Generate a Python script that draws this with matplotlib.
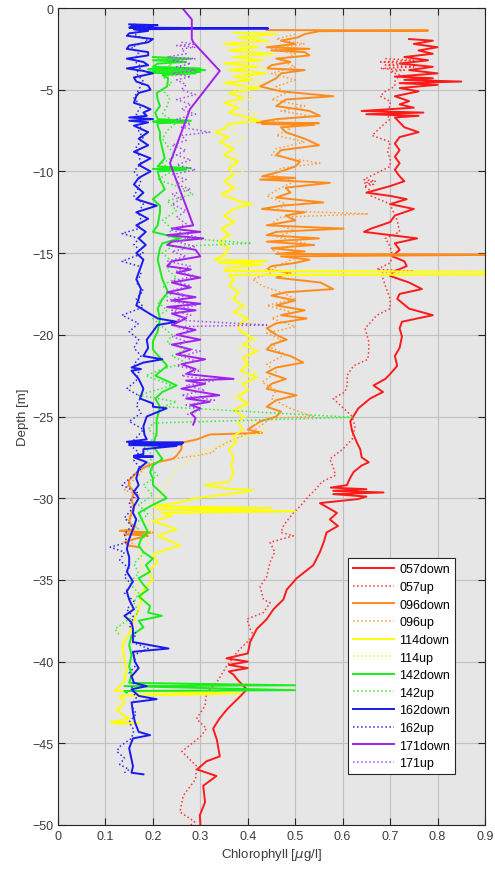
import numpy as np
import matplotlib
matplotlib.use("Agg")
import matplotlib.pyplot as plt

plt.rcParams['font.family'] = ['Liberation Sans', 'DejaVu Sans']

# profundidades (m, positivas hacia abajo) y clorofila (ug/l) por perfil
d057down = [1.9, 2.0, 2.2, 2.4, 2.6, 2.8, 3.0, 3.2, 3.4, 3.6, 3.8, 4.0, 4.2, 4.3, 4.4, 4.5, 4.6, 4.7, 4.9, 5.1,
            5.4, 5.7, 5.9, 6.1, 6.3, 6.4, 6.5, 6.6, 6.7, 7.0, 7.3, 7.6, 7.9, 8.3, 8.7, 9.1, 9.5, 9.9, 10.3, 10.6,
            10.9, 11.3, 11.5, 11.7, 12.0, 12.3, 12.7, 13.1, 13.5, 13.7, 14.1, 14.4, 14.8, 15.2, 15.5, 15.8, 16.1,
            16.4, 16.8, 17.2, 17.5, 17.8, 18.4, 18.8, 19.2, 19.6, 20.1, 20.8, 21.3, 21.9, 22.4, 22.7, 23.1, 23.5,
            23.9, 24.5, 25.3, 25.9, 26.6, 27.0, 27.5, 27.8, 28.0, 28.4, 28.8, 29.2, 29.35, 29.45, 29.55, 29.65,
            29.75, 29.9, 30.05, 30.3, 30.6, 30.9, 31.3, 31.7, 32.1, 32.7, 33.3, 34.1, 34.9, 35.6, 36.2, 36.8, 37.4,
            38.0, 38.8, 39.5, 39.8, 40.0, 40.2, 40.4, 40.6, 40.8, 41.1, 41.7, 42.1, 42.9, 43.5, 44.1, 44.8, 45.8,
            46.1, 46.6, 47.0, 47.6, 48.6, 49.4, 50.0]
v057down = [0.74, 0.79, 0.75, 0.80, 0.76, 0.79, 0.73, 0.78, 0.72, 0.79, 0.74, 0.80, 0.71, 0.79, 0.73, 0.85, 0.72,
            0.80, 0.72, 0.76, 0.71, 0.74, 0.72, 0.75, 0.64, 0.77, 0.65, 0.76, 0.71, 0.72, 0.73, 0.76, 0.72, 0.71,
            0.72, 0.71, 0.72, 0.71, 0.72, 0.73, 0.70, 0.65, 0.70, 0.735, 0.70, 0.75, 0.71, 0.70, 0.66, 0.645, 0.757,
            0.71, 0.72, 0.705, 0.73, 0.735, 0.71, 0.70, 0.74, 0.767, 0.72, 0.715, 0.74, 0.79, 0.725, 0.72, 0.725,
            0.72, 0.71, 0.715, 0.70, 0.69, 0.665, 0.685, 0.658, 0.633, 0.616, 0.62, 0.63, 0.637, 0.64, 0.655, 0.64,
            0.623, 0.615, 0.609, 0.575, 0.65, 0.58, 0.686, 0.58, 0.65, 0.633, 0.552, 0.57, 0.588, 0.573, 0.59, 0.566,
            0.56, 0.552, 0.538, 0.503, 0.482, 0.475, 0.454, 0.44, 0.419, 0.405, 0.40, 0.355, 0.40, 0.36, 0.40, 0.36,
            0.37, 0.378, 0.398, 0.385, 0.357, 0.34, 0.327, 0.335, 0.341, 0.313, 0.293, 0.334, 0.306, 0.31, 0.299,
            0.30]

d057up = [3.1, 3.2, 3.3, 3.4, 3.5, 3.6, 3.7, 3.8, 3.9, 4.1, 4.5, 4.8, 5.1, 5.4, 5.7, 6.0, 6.4, 6.8, 7.3, 7.8, 8.2,
          8.8, 9.3, 9.7, 10.3, 10.5, 10.6, 10.7, 10.8, 10.9, 11.2, 11.5, 12.0, 12.5, 13.0, 13.7, 14.1, 14.6, 15.2,
          15.6, 16.0, 16.1, 16.2, 16.4, 17.0, 17.8, 18.4, 18.8, 19.2, 19.6, 20.4, 21.0, 21.5, 21.9, 22.5, 23.0,
          23.5, 23.9, 24.5, 25.0, 25.6, 26.4, 27.0, 27.6, 28.1, 28.6, 29.0, 29.4, 29.8, 30.5, 30.9, 31.3, 31.7,
          32.1, 32.3, 32.7, 33.3, 33.9, 34.8, 35.4, 36.2, 36.4, 37.0, 37.4, 38.0, 38.4, 39.4, 40.3, 41.3, 41.9,
          42.7, 43.5, 44.1, 44.6, 45.5, 46.4, 47.2, 48.2, 49.2, 49.8, 50.0]
v057up = [0.69, 0.75, 0.68, 0.74, 0.69, 0.75, 0.68, 0.73, 0.70, 0.72, 0.71, 0.71, 0.69, 0.679, 0.70, 0.70, 0.69,
          0.70, 0.68, 0.662, 0.70, 0.695, 0.70, 0.70, 0.658, 0.645, 0.67, 0.645, 0.665, 0.645, 0.66, 0.66, 0.70,
          0.707, 0.715, 0.72, 0.69, 0.70, 0.705, 0.70, 0.672, 0.749, 0.68, 0.683, 0.69, 0.70, 0.70, 0.672, 0.66,
          0.647, 0.655, 0.655, 0.653, 0.623, 0.609, 0.61, 0.605, 0.58, 0.602, 0.62, 0.626, 0.62, 0.60, 0.573,
          0.58, 0.585, 0.556, 0.545, 0.531, 0.51, 0.496, 0.485, 0.475, 0.47, 0.496, 0.447, 0.457, 0.447, 0.44,
          0.426, 0.433, 0.447, 0.433, 0.398, 0.405, 0.412, 0.378, 0.355, 0.334, 0.313, 0.31, 0.292, 0.313, 0.30,
          0.261, 0.292, 0.29, 0.264, 0.257, 0.288, 0.28]

d096down = [1.35, 1.38, 1.42, 1.6, 1.8, 2.0, 2.2, 2.4, 2.5, 2.6, 2.7, 2.9, 3.1, 3.3, 3.5, 3.7, 3.8, 4.0, 4.3, 4.6,
            4.8, 5.1, 5.4, 5.6, 6.0, 6.3, 6.6, 6.8, 7.0, 7.05, 7.1, 7.15, 7.3, 7.6, 8.0, 8.4, 8.7, 9.0, 9.4, 9.7,
            10.0, 10.3, 10.4, 10.5, 10.7, 11.0, 11.3, 11.6, 11.9, 12.1, 12.3, 12.5, 12.7, 13.0, 13.3, 13.5, 13.7,
            13.9, 14.1, 14.3, 14.5, 14.7, 14.9, 15.05, 15.1, 15.2, 15.4, 15.6, 15.8, 16.0, 16.2, 16.5, 16.8, 17.2,
            17.4, 17.6, 17.9, 18.2, 18.5, 18.8, 19.0, 19.3, 19.6, 20.0, 20.3, 20.6, 20.9, 21.3, 21.7, 22.0, 22.3,
            22.7, 23.0, 23.3, 23.7, 24.0, 24.4, 24.7, 25.0, 25.3, 25.8, 26.0, 26.1, 26.4, 26.6, 27.0, 27.4, 27.6,
            27.8, 28.0, 28.3, 28.6, 28.9, 29.2, 29.6, 30.1, 30.5, 30.9, 31.4, 31.9, 32.0, 32.1, 32.2, 32.3, 32.5,
            32.7, 32.9, 33.0]
v096down = [0.44, 0.78, 0.55, 0.52, 0.505, 0.47, 0.50, 0.44, 0.53, 0.45, 0.52, 0.53, 0.46, 0.49, 0.45, 0.44, 0.52,
            0.47, 0.46, 0.44, 0.426, 0.47, 0.58, 0.48, 0.46, 0.53, 0.552, 0.46, 0.419, 0.55, 0.43, 0.54, 0.47, 0.48,
            0.52, 0.55, 0.47, 0.46, 0.51, 0.50, 0.47, 0.43, 0.50, 0.426, 0.573, 0.48, 0.49, 0.46, 0.559, 0.47, 0.43,
            0.52, 0.48, 0.50, 0.44, 0.602, 0.46, 0.44, 0.55, 0.44, 0.54, 0.45, 0.52, 0.46, 0.95, 0.47, 0.53, 0.50,
            0.45, 0.44, 0.49, 0.46, 0.553, 0.58, 0.48, 0.45, 0.50, 0.46, 0.52, 0.47, 0.524, 0.46, 0.44, 0.46, 0.482,
            0.45, 0.44, 0.49, 0.517, 0.46, 0.44, 0.48, 0.45, 0.44, 0.503, 0.46, 0.44, 0.47, 0.46, 0.426, 0.40, 0.43,
            0.32, 0.293, 0.261, 0.26, 0.25, 0.241, 0.21, 0.19, 0.17, 0.16, 0.15, 0.149, 0.16, 0.155, 0.16, 0.155,
            0.15, 0.16, 0.13, 0.20, 0.14, 0.19, 0.16, 0.14, 0.15, 0.17]

d096up = [1.6, 1.9, 2.2, 2.5, 2.8, 3.2, 3.6, 4.0, 4.4, 4.8, 5.2, 5.6, 6.0, 6.3, 6.6, 6.9, 7.4, 7.8, 8.2, 8.6, 9.0,
          9.5, 9.8, 10.2, 10.6, 11.0, 11.5, 12.0, 12.4, 12.6, 12.8, 13.2, 13.6, 14.0, 14.4, 14.8, 15.3, 15.8, 16.2,
          16.6, 17.0, 17.4, 17.8, 18.2, 18.6, 19.0, 19.5, 19.9, 20.3, 20.8, 21.2, 21.8, 22.3, 22.9, 23.4, 23.9,
          24.5, 25.0, 25.1, 25.5, 25.9, 26.3, 26.6, 27.0, 27.2, 27.4, 27.6, 27.8, 28.2, 28.6, 29.0, 29.5, 29.8,
          30.3, 30.8, 31.3, 31.8, 32.2, 32.6, 33.0]
v096up = [0.50, 0.46, 0.52, 0.45, 0.50, 0.47, 0.50, 0.45, 0.50, 0.46, 0.48, 0.45, 0.52, 0.47, 0.53, 0.45, 0.49,
          0.46, 0.52, 0.46, 0.45, 0.552, 0.47, 0.45, 0.50, 0.47, 0.44, 0.48, 0.46, 0.654, 0.47, 0.45, 0.50, 0.46,
          0.52, 0.45, 0.50, 0.46, 0.45, 0.41, 0.43, 0.47, 0.50, 0.44, 0.49, 0.45, 0.50, 0.44, 0.47, 0.45, 0.48,
          0.44, 0.46, 0.43, 0.46, 0.45, 0.489, 0.538, 0.45, 0.43, 0.41, 0.38, 0.356, 0.33, 0.327, 0.29, 0.243,
          0.208, 0.18, 0.17, 0.155, 0.14, 0.17, 0.15, 0.16, 0.145, 0.165, 0.14, 0.16, 0.15]

d114down = [1.5, 1.6, 1.8, 2.0, 2.2, 2.4, 2.6, 2.8, 3.0, 3.2, 3.4, 3.6, 3.8, 4.0, 4.2, 4.4, 4.6, 4.9, 5.2, 5.5,
            5.8, 6.1, 6.4, 6.7, 6.9, 7.1, 7.4, 7.6, 7.9, 8.2, 8.6, 9.0, 9.4, 9.8, 10.2, 10.6, 11.0, 11.4, 11.8,
            12.0, 12.3, 12.7, 13.1, 13.5, 13.9, 14.3, 14.7, 15.1, 15.4, 15.5, 15.6, 15.7, 15.9, 16.1, 16.15, 16.3,
            16.35, 16.6, 17.0, 17.4, 17.8, 18.2, 18.6, 19.0, 19.4, 19.8, 20.2, 20.6, 21.0, 21.4, 21.8, 22.2, 22.6,
            23.0, 23.4, 23.8, 24.2, 24.6, 25.0, 25.4, 25.8, 26.2, 26.6, 27.0, 27.5, 28.0, 28.5, 29.0, 29.2, 29.4,
            29.5, 29.6, 30.0, 30.3, 30.5, 30.6, 30.7, 30.8, 30.9, 31.1, 31.4, 31.9, 32.3, 32.9, 33.4, 33.9, 34.5,
            35.0, 35.6, 36.2, 36.8, 37.5, 38.3, 39.0, 39.8, 40.5, 41.2, 41.8, 41.95, 42.1, 42.5, 43.0, 43.5, 43.7,
            43.75, 43.8]
v114down = [0.37, 0.46, 0.38, 0.44, 0.35, 0.42, 0.36, 0.45, 0.37, 0.43, 0.35, 0.42, 0.36, 0.44, 0.37, 0.41, 0.35,
            0.426, 0.36, 0.39, 0.35, 0.38, 0.36, 0.40, 0.425, 0.36, 0.35, 0.331, 0.36, 0.34, 0.37, 0.35, 0.38, 0.36,
            0.37, 0.35, 0.37, 0.345, 0.38, 0.408, 0.37, 0.35, 0.37, 0.345, 0.36, 0.34, 0.36, 0.35, 0.33, 0.44, 0.34,
            0.43, 0.36, 0.35, 1.0, 1.0, 0.36, 0.37, 0.36, 0.38, 0.37, 0.39, 0.37, 0.40, 0.38, 0.385, 0.41, 0.39,
            0.42, 0.39, 0.40, 0.385, 0.42, 0.39, 0.40, 0.38, 0.40, 0.37, 0.39, 0.38, 0.39, 0.37, 0.375, 0.36, 0.37,
            0.365, 0.37, 0.36, 0.31, 0.35, 0.41, 0.40, 0.29, 0.25, 0.20, 0.45, 0.21, 0.50, 0.22, 0.24, 0.20, 0.25,
            0.21, 0.257, 0.20, 0.21, 0.19, 0.20, 0.18, 0.175, 0.17, 0.16, 0.15, 0.135, 0.14, 0.145, 0.14, 0.12,
            0.384, 0.13, 0.14, 0.125, 0.15, 0.11, 0.17, 0.12]

d114up = [1.8, 2.1, 2.5, 2.9, 3.3, 3.7, 4.1, 4.5, 5.0, 5.5, 6.0, 6.5, 7.0, 7.5, 8.0, 8.5, 9.0, 9.5, 10.0, 10.5,
          11.0, 11.5, 12.0, 12.5, 13.0, 13.5, 14.0, 14.5, 15.0, 15.5, 16.0, 16.2, 16.3, 16.8, 17.3, 17.8, 18.3,
          18.8, 19.3, 19.8, 20.3, 20.8, 21.3, 21.8, 22.3, 22.8, 23.3, 23.8, 24.3, 24.8, 25.3, 25.9, 26.2, 26.6,
          27.0, 27.4, 27.8, 28.2, 28.6, 29.0, 29.5, 30.0, 30.5, 30.8, 31.0, 31.5, 32.0, 32.5, 33.0, 33.5, 34.0,
          35.0, 36.0, 37.0, 38.0, 39.0, 40.0, 41.0, 42.0, 42.2, 43.0]
v114up = [0.40, 0.45, 0.38, 0.46, 0.39, 0.44, 0.38, 0.43, 0.37, 0.41, 0.36, 0.42, 0.38, 0.36, 0.39, 0.35, 0.38,
          0.36, 0.39, 0.36, 0.38, 0.35, 0.39, 0.36, 0.38, 0.35, 0.37, 0.34, 0.36, 0.34, 0.37, 1.0, 0.38, 0.37,
          0.39, 0.36, 0.40, 0.38, 0.41, 0.39, 0.42, 0.38, 0.41, 0.39, 0.42, 0.38, 0.40, 0.37, 0.40, 0.38, 0.41,
          0.44, 0.40, 0.36, 0.32, 0.29, 0.27, 0.25, 0.24, 0.23, 0.22, 0.21, 0.20, 0.35, 0.20, 0.19, 0.20, 0.18,
          0.19, 0.17, 0.18, 0.17, 0.16, 0.15, 0.13, 0.14, 0.13, 0.14, 0.20, 0.13, 0.12]

d142down = [3.0, 3.1, 3.2, 3.3, 3.4, 3.6, 3.7, 3.75, 3.8, 3.85, 3.9, 3.95, 4.0, 4.1, 4.3, 4.8, 5.2, 5.6, 6.0, 6.4,
            6.8, 6.9, 6.95, 7.0, 7.05, 7.2, 7.6, 8.0, 8.6, 9.2, 9.7, 9.8, 9.85, 9.9, 10.0, 10.5, 11.1, 11.7, 12.1,
            12.5, 13.3, 13.7, 14.1, 14.4, 14.7, 15.4, 16.0, 16.6, 17.4, 17.8, 18.4, 19.0, 19.8, 20.4, 20.9, 21.4,
            21.9, 22.5, 23.1, 23.5, 23.9, 24.4, 25.2, 26.0, 26.8, 27.2, 27.6, 28.0, 28.4, 28.8, 29.2, 29.6, 30.0,
            30.4, 30.9, 31.5, 32.1, 32.5, 32.9, 33.3, 33.7, 34.1, 34.5, 34.9, 35.3, 35.6, 36.0, 36.6, 37.0, 37.2,
            37.5, 37.9, 38.4, 39.0, 39.6, 40.3, 40.8, 41.3, 41.45, 41.5, 41.75, 41.8, 41.9]
v142down = [0.20, 0.28, 0.20, 0.27, 0.21, 0.20, 0.30, 0.19, 0.31, 0.20, 0.30, 0.19, 0.29, 0.22, 0.232, 0.23, 0.208,
            0.21, 0.215, 0.205, 0.21, 0.28, 0.20, 0.27, 0.21, 0.21, 0.215, 0.215, 0.22, 0.225, 0.21, 0.28, 0.20,
            0.27, 0.21, 0.215, 0.225, 0.20, 0.215, 0.215, 0.21, 0.20, 0.257, 0.22, 0.215, 0.21, 0.215, 0.22, 0.232,
            0.22, 0.21, 0.215, 0.21, 0.20, 0.20, 0.215, 0.23, 0.205, 0.25, 0.22, 0.205, 0.215, 0.208, 0.208, 0.20,
            0.21, 0.22, 0.20, 0.194, 0.20, 0.20, 0.215, 0.229, 0.20, 0.17, 0.18, 0.19, 0.175, 0.17, 0.18, 0.20,
            0.185, 0.194, 0.17, 0.18, 0.19, 0.17, 0.194, 0.19, 0.219, 0.17, 0.18, 0.155, 0.15, 0.155, 0.15, 0.155,
            0.15, 0.50, 0.14, 0.50, 0.14, 0.145]

d142up = [3.1, 3.15, 3.2, 3.5, 3.8, 3.85, 3.9, 4.0, 4.2, 4.6, 5.0, 5.5, 6.0, 6.5, 7.0, 7.5, 8.0, 8.6, 9.0, 9.5,
          10.0, 10.5, 11.0, 11.4, 11.8, 12.4, 13.0, 13.5, 14.0, 14.4, 14.6, 15.0, 15.5, 16.0, 16.5, 17.0, 17.5,
          18.0, 18.5, 19.0, 19.5, 20.0, 20.5, 20.9, 21.3, 21.7, 22.1, 22.5, 23.1, 23.7, 24.1, 24.4, 25.05, 25.4,
          25.8, 26.2, 26.8, 27.4, 28.0, 28.6, 29.2, 29.8, 30.4, 31.0, 31.6, 32.2, 32.8, 33.4, 34.0, 34.6, 35.2,
          35.8, 36.4, 37.0, 37.6, 38.0, 38.4]
v142up = [0.21, 0.27, 0.22, 0.24, 0.20, 0.29, 0.21, 0.28, 0.22, 0.24, 0.22, 0.235, 0.23, 0.22, 0.25, 0.23, 0.22,
          0.235, 0.25, 0.22, 0.24, 0.21, 0.26, 0.285, 0.23, 0.25, 0.22, 0.24, 0.23, 0.408, 0.24, 0.22, 0.24, 0.23,
          0.25, 0.22, 0.24, 0.21, 0.23, 0.20, 0.22, 0.24, 0.23, 0.27, 0.24, 0.27, 0.22, 0.185, 0.24, 0.17, 0.25,
          0.22, 0.62, 0.20, 0.19, 0.21, 0.18, 0.20, 0.19, 0.21, 0.18, 0.20, 0.17, 0.19, 0.16, 0.18, 0.17, 0.18,
          0.16, 0.17, 0.15, 0.17, 0.16, 0.17, 0.14, 0.12, 0.13]

d162down = [1.0, 1.05, 1.1, 1.15, 1.2, 1.25, 1.3, 1.4, 1.55, 1.7, 1.9, 2.1, 2.3, 2.5, 2.7, 2.9, 3.1, 3.3, 3.5, 3.7,
            3.85, 4.0, 4.25, 4.5, 4.75, 5.0, 5.2, 5.4, 5.8, 6.0, 6.2, 6.4, 6.6, 6.7, 6.8, 6.9, 7.0, 7.2, 7.6, 8.0,
            8.4, 8.8, 9.2, 9.6, 10.0, 10.4, 10.8, 11.3, 11.7, 12.1, 12.5, 12.9, 13.3, 13.7, 14.1, 14.5, 15.0, 15.4,
            15.8, 16.2, 16.6, 17.2, 17.8, 18.2, 18.6, 19.0, 19.2, 19.4, 19.8, 20.3, 20.8, 21.3, 21.5, 21.7, 22.0,
            22.1, 22.2, 22.7, 23.3, 23.9, 24.2, 24.4, 24.5, 25.0, 25.6, 26.1, 26.4, 26.55, 26.6, 26.65, 26.7, 26.75,
            26.8, 27.0, 27.3, 27.4, 27.45, 27.5, 27.8, 28.2, 28.8, 29.2, 29.6, 30.0, 30.5, 30.9, 31.3, 31.9, 32.5,
            33.1, 33.6, 34.1, 34.5, 35.1, 35.7, 36.2, 36.8, 37.2, 37.6, 38.0, 38.8, 39.2, 39.4, 40.0, 40.4, 40.9,
            41.3, 41.5, 41.7, 42.1, 42.3, 42.5, 43.1, 43.7, 44.3, 44.5, 44.7, 45.3, 46.0, 46.4, 46.8, 46.9]
v162down = [0.15, 0.21, 0.155, 0.20, 0.15, 0.443, 0.16, 0.19, 0.15, 0.145, 0.20, 0.19, 0.15, 0.145, 0.19, 0.19,
            0.145, 0.18, 0.19, 0.145, 0.18, 0.20, 0.16, 0.165, 0.19, 0.195, 0.17, 0.165, 0.16, 0.18, 0.195, 0.18,
            0.187, 0.15, 0.20, 0.15, 0.19, 0.16, 0.19, 0.17, 0.19, 0.16, 0.195, 0.17, 0.195, 0.17, 0.16, 0.18,
            0.165, 0.208, 0.165, 0.19, 0.165, 0.185, 0.17, 0.185, 0.165, 0.18, 0.175, 0.17, 0.165, 0.175, 0.17,
            0.165, 0.187, 0.21, 0.25, 0.21, 0.20, 0.187, 0.19, 0.18, 0.22, 0.18, 0.155, 0.175, 0.155, 0.17, 0.18,
            0.173, 0.20, 0.20, 0.229, 0.187, 0.18, 0.182, 0.187, 0.145, 0.264, 0.15, 0.26, 0.15, 0.25, 0.18, 0.18,
            0.16, 0.20, 0.16, 0.187, 0.17, 0.165, 0.17, 0.16, 0.17, 0.16, 0.158, 0.165, 0.158, 0.15, 0.145, 0.15,
            0.15, 0.145, 0.158, 0.145, 0.15, 0.16, 0.14, 0.155, 0.158, 0.158, 0.233, 0.158, 0.162, 0.17, 0.155,
            0.16, 0.187, 0.155, 0.17, 0.208, 0.155, 0.158, 0.162, 0.17, 0.194, 0.158, 0.15, 0.155, 0.158, 0.155,
            0.18]

d162up = [1.0, 1.1, 1.3, 1.6, 2.0, 2.4, 2.8, 3.2, 3.6, 4.0, 4.5, 5.0, 5.5, 6.0, 6.5, 7.0, 7.5, 8.0, 8.5, 9.0, 9.5,
          10.0, 10.5, 11.0, 11.5, 12.0, 12.5, 13.0, 13.5, 13.8, 14.1, 14.5, 15.0, 15.5, 15.8, 16.3, 16.8, 17.3,
          17.8, 18.3, 18.8, 19.3, 19.8, 20.3, 20.8, 21.3, 21.8, 22.3, 22.8, 23.3, 23.8, 24.3, 24.8, 25.3, 25.8,
          26.3, 26.7, 27.2, 27.7, 28.2, 28.7, 29.2, 29.7, 30.2, 30.7, 31.2, 31.7, 32.2, 32.7, 33.0, 33.3, 33.8,
          34.3, 34.8, 35.3, 35.8, 36.3, 36.8, 37.3, 37.8, 38.3, 38.8, 39.2, 39.6, 40.2, 40.7, 41.2, 41.7, 42.2,
          42.7, 43.2, 43.7, 44.2, 44.7, 45.2, 45.5, 45.9, 46.3, 46.6, 46.8]
v162up = [0.16, 0.19, 0.17, 0.16, 0.19, 0.155, 0.17, 0.16, 0.175, 0.165, 0.18, 0.17, 0.16, 0.175, 0.165, 0.18,
          0.17, 0.18, 0.165, 0.17, 0.175, 0.16, 0.175, 0.17, 0.16, 0.18, 0.17, 0.175, 0.17, 0.135, 0.17, 0.16,
          0.18, 0.135, 0.17, 0.175, 0.165, 0.18, 0.165, 0.18, 0.135, 0.17, 0.15, 0.17, 0.16, 0.175, 0.16, 0.17,
          0.165, 0.145, 0.175, 0.165, 0.175, 0.15, 0.18, 0.165, 0.15, 0.17, 0.16, 0.175, 0.155, 0.135, 0.17, 0.15,
          0.155, 0.14, 0.155, 0.14, 0.145, 0.11, 0.14, 0.13, 0.15, 0.14, 0.155, 0.14, 0.16, 0.145, 0.16, 0.15,
          0.165, 0.155, 0.19, 0.16, 0.165, 0.15, 0.16, 0.155, 0.165, 0.155, 0.165, 0.15, 0.16, 0.155, 0.13, 0.124,
          0.14, 0.13, 0.15, 0.14]

d171down = [0.0, 0.7, 1.9, 2.1, 3.85, 6.2, 9.5, 13.3, 13.5, 13.7, 13.9, 14.1, 14.3, 14.5, 14.8, 15.2, 15.5, 15.8,
            16.0, 16.2, 16.5, 16.8, 17.1, 17.4, 17.7, 17.9, 18.1, 18.3, 18.5, 18.7, 19.0, 19.4, 19.7, 20.0, 20.3,
            20.6, 20.9, 21.2, 21.5, 21.8, 22.1, 22.4, 22.7, 22.8, 23.0, 23.3, 23.7, 23.9, 24.1, 24.3, 24.5, 24.8,
            25.1, 25.5]
v171down = [0.262, 0.282, 0.282, 0.285, 0.341, 0.278, 0.236, 0.285, 0.24, 0.30, 0.23, 0.306, 0.24, 0.23, 0.29,
            0.30, 0.24, 0.23, 0.28, 0.25, 0.30, 0.24, 0.28, 0.23, 0.29, 0.24, 0.30, 0.23, 0.29, 0.24, 0.27, 0.24,
            0.29, 0.25, 0.30, 0.24, 0.28, 0.25, 0.31, 0.26, 0.29, 0.27, 0.37, 0.27, 0.31, 0.26, 0.34, 0.27, 0.32,
            0.28, 0.30, 0.28, 0.29, 0.285]

d171up = [2.1, 2.2, 2.3, 2.4, 2.5, 2.8, 3.0, 3.1, 3.2, 3.4, 3.6, 3.8, 4.0, 4.2, 4.4, 4.7, 5.0, 5.3, 5.6, 5.9, 6.2,
          6.5, 6.8, 7.1, 7.3, 7.6, 7.8, 8.1, 8.4, 8.7, 9.0, 9.3, 9.6, 9.9, 10.2, 10.5, 10.8, 11.1, 11.4, 11.7,
          12.0, 12.4, 12.8, 13.2, 13.6, 14.0, 14.3, 14.6, 14.9, 15.2, 15.5, 15.8, 16.1, 16.4, 16.7, 17.0, 17.3,
          17.6, 17.9, 18.2, 18.5, 18.8, 19.1, 19.4, 19.5, 19.8, 20.1, 20.4, 20.7, 21.0, 21.3, 21.6, 21.9, 22.2,
          22.5, 22.8, 23.1, 23.4, 23.7, 24.0, 24.3, 24.6, 24.9]
v171up = [0.26, 0.29, 0.25, 0.29, 0.26, 0.27, 0.23, 0.29, 0.24, 0.28, 0.25, 0.29, 0.24, 0.28, 0.25, 0.27, 0.26,
          0.29, 0.25, 0.28, 0.26, 0.29, 0.25, 0.28, 0.26, 0.32, 0.26, 0.27, 0.24, 0.27, 0.25, 0.28, 0.25, 0.29,
          0.24, 0.27, 0.25, 0.28, 0.24, 0.26, 0.24, 0.27, 0.25, 0.27, 0.24, 0.29, 0.25, 0.29, 0.24, 0.27, 0.23,
          0.28, 0.25, 0.29, 0.24, 0.28, 0.24, 0.27, 0.23, 0.29, 0.24, 0.28, 0.25, 0.44, 0.25, 0.28, 0.24, 0.27,
          0.25, 0.30, 0.26, 0.29, 0.25, 0.30, 0.26, 0.33, 0.27, 0.31, 0.26, 0.33, 0.27, 0.30, 0.27]

perfiles = [
    ("057down", d057down, v057down, "#ff1a1a", "-"),
    ("057up", d057up, v057up, "#ff3333", ":"),
    ("096down", d096down, v096down, "#ff8c1a", "-"),
    ("096up", d096up, v096up, "#ff9a33", ":"),
    ("114down", d114down, v114down, "#ffff00", "-"),
    ("114up", d114up, v114up, "#ffff33", ":"),
    ("142down", d142down, v142down, "#1aee1a", "-"),
    ("142up", d142up, v142up, "#33ee33", ":"),
    ("162down", d162down, v162down, "#1a1aee", "-"),
    ("162up", d162up, v162up, "#2a2aee", ":"),
    ("171down", d171down, v171down, "#a020f0", "-"),
    ("171up", d171up, v171up, "#a84cf0", ":"),
]

fig = plt.figure(figsize=(4.95, 8.7), dpi=100)
ax = fig.add_axes([58 / 495, 44 / 870, 427 / 495, 817 / 870])
ax.set_facecolor("#e6e6e6")

for nombre, prof, valor, color, estilo in perfiles:
    ax.plot(valor, -np.array(prof), color=color, linestyle=estilo,
            linewidth=1.4 if estilo == "-" else 1.1, label=nombre)

ax.set_xlim(0, 0.9)
ax.set_ylim(-50, 0)
ax.set_xticks(np.arange(0, 0.91, 0.1))
ax.set_xticklabels(["0", "0.1", "0.2", "0.3", "0.4", "0.5", "0.6", "0.7", "0.8", "0.9"])
ax.set_yticks(np.arange(-50, 1, 5))
ax.grid(True, color="#c0c0c0", linewidth=0.8)
ax.set_axisbelow(True)
ax.tick_params(direction="in", top=True, right=True, length=5, width=0.8,
               colors="#262626", labelsize=9)
ax.tick_params(labelcolor="#3c3c3c")
for s in ax.spines.values():
    s.set_color("#262626")
    s.set_linewidth(0.8)

ax.set_xlabel(r"Chlorophyll [$\mu$g/l]", fontsize=9.5, color="#3c3c3c", labelpad=3)
ax.set_ylabel("Depth [m]", fontsize=9.5, color="#3c3c3c", labelpad=2)

leg = ax.legend(loc="lower right", bbox_to_anchor=(0.93, 0.062), fontsize=9,
                handlelength=3.3, labelspacing=0.45, borderpad=0.4,
                handletextpad=0.4, fancybox=False, framealpha=1,
                edgecolor="#262626", borderaxespad=0)
leg.get_frame().set_linewidth(0.8)

fig.savefig("out.png", dpi=100)
